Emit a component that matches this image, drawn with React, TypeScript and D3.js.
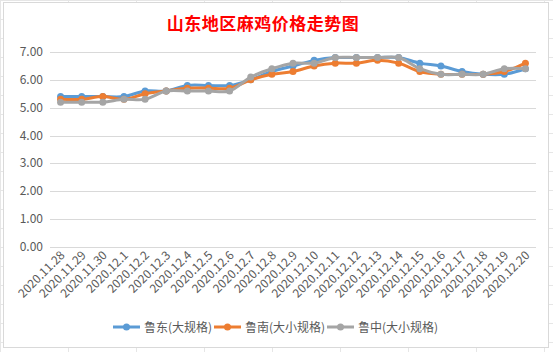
import * as d3 from 'd3';
import React, { useRef, useEffect } from 'react';

// dates on the x axis
const dates = [
  '2020.11.28', '2020.11.29', '2020.11.30', '2020.12.1', '2020.12.2', '2020.12.3',
  '2020.12.4', '2020.12.5', '2020.12.6', '2020.12.7', '2020.12.8', '2020.12.9',
  '2020.12.10', '2020.12.11', '2020.12.12', '2020.12.13', '2020.12.14', '2020.12.15',
  '2020.12.16', '2020.12.17', '2020.12.18', '2020.12.19', '2020.12.20'
];

const ludong = [5.4, 5.4, 5.4, 5.4, 5.6, 5.6, 5.8, 5.8, 5.8, 6.0, 6.3, 6.5, 6.7, 6.8, 6.8, 6.8, 6.8, 6.6, 6.5, 6.3, 6.2, 6.2, 6.4];
const lunan = [5.3, 5.3, 5.4, 5.3, 5.5, 5.6, 5.7, 5.7, 5.7, 6.0, 6.2, 6.3, 6.5, 6.6, 6.6, 6.7, 6.6, 6.3, 6.2, 6.2, 6.2, 6.3, 6.6];
const luzhong = [5.2, 5.2, 5.2, 5.3, 5.3, 5.6, 5.6, 5.6, 5.6, 6.1, 6.4, 6.6, 6.6, 6.8, 6.8, 6.8, 6.8, 6.4, 6.2, 6.2, 6.2, 6.4, 6.4];

const seriesNames = ['鲁东(大规格)', '鲁南(大小规格)', '鲁中(大小规格)'];
const seriesColors = ['#5B9BD5', '#ED7D31', '#A5A5A5'];
const yTicks = [0, 1, 2, 3, 4, 5, 6, 7];

const W = 553;
const H = 352;
const font = '"Noto Sans CJK SC", "Open Sans", sans-serif';

function App() {
  const ref = useRef<SVGSVGElement>(null);

  useEffect(() => {
    const svg = d3.select(ref.current);
    svg.selectAll('*').remove();

    // excel sheet cells behind the chart
    const bg = svg.append('g');
    bg.append('rect').attr('width', W).attr('height', H).attr('fill', '#fff');
    for (let x = 0; x < W; x += 68) {
      bg.append('line').attr('x1', x + 0.5).attr('x2', x + 0.5).attr('y1', 0).attr('y2', H)
        .attr('stroke', '#e6e6e6');
    }
    for (let y = 0; y < H; y += 19) {
      bg.append('line').attr('x1', 0).attr('x2', W).attr('y1', y + 0.5).attr('y2', y + 0.5)
        .attr('stroke', '#e6e6e6');
    }

    // chart area
    svg.append('rect')
      .attr('x', 3.5).attr('y', 2.5).attr('width', 545).attr('height', 345)
      .attr('fill', '#fff').attr('stroke', '#d9d9d9');

    svg.append('text')
      .attr('x', 263).attr('y', 30)
      .attr('text-anchor', 'middle')
      .attr('font-family', font)
      .attr('font-size', 17)
      .attr('font-weight', 'bold')
      .attr('letter-spacing', 0.5)
      .attr('fill', '#ff0000')
      .text('山东地区麻鸡价格走势图');

    const x = d3.scaleBand().domain(dates).range([50, 536]);
    const y = d3.scaleLinear().domain([0, 7]).range([247, 52]);
    const cx = (d: string) => (x(d) as number) + x.bandwidth() / 2;

    // y gridlines + labels
    const grid = svg.append('g');
    yTicks.forEach(t => {
      grid.append('line')
        .attr('x1', 50).attr('x2', 536)
        .attr('y1', Math.round(y(t)) + 0.5).attr('y2', Math.round(y(t)) + 0.5)
        .attr('stroke', '#d9d9d9');
      grid.append('text')
        .attr('x', 43).attr('y', y(t) + 4)
        .attr('text-anchor', 'end')
        .attr('font-family', font).attr('font-size', 12)
        .attr('fill', '#595959')
        .text(d3.format('.2f')(t));
    });

    // x labels
    svg.append('g').selectAll('text').data(dates).enter().append('text')
      .attr('transform', d => `translate(${cx(d) + 5},${256}) rotate(-45)`)
      .attr('text-anchor', 'end')
      .attr('font-family', font).attr('font-size', 12)
      .attr('fill', '#595959')
      .text(d => d);

    const allSeries = [ludong, lunan, luzhong];
    const line = d3.line<number>()
      .x((_, i) => cx(dates[i]))
      .y(v => y(v))
      .curve(d3.curveCatmullRom.alpha(0.5));

    allSeries.forEach((vals, si) => {
      const g = svg.append('g');
      g.append('path')
        .attr('d', line(vals))
        .attr('fill', 'none')
        .attr('stroke', seriesColors[si])
        .attr('stroke-width', 3)
        .attr('stroke-linecap', 'round');
      g.selectAll('circle').data(vals).enter().append('circle')
        .attr('cx', (_, i) => cx(dates[i]))
        .attr('cy', v => y(v))
        .attr('r', 3.5)
        .attr('fill', seriesColors[si]);
    });

    // legend
    const legendX = [113, 214, 327];
    const ly = 327;
    seriesNames.forEach((name, i) => {
      const g = svg.append('g');
      g.append('line')
        .attr('x1', legendX[i]).attr('x2', legendX[i] + 27)
        .attr('y1', ly).attr('y2', ly)
        .attr('stroke', seriesColors[i]).attr('stroke-width', 3);
      g.append('circle')
        .attr('cx', legendX[i] + 13.5).attr('cy', ly).attr('r', 3.5)
        .attr('fill', seriesColors[i]);
      g.append('text')
        .attr('x', legendX[i] + 31).attr('y', ly + 4.5)
        .attr('font-family', font).attr('font-size', 12)
        .attr('fill', '#595959')
        .text(name);
    });
  }, []);

  return (
    <svg ref={ref} width={W} height={H}
      style={{ position: 'fixed', left: 0, top: 0, display: 'block' }} />
  );
}

export default App;
